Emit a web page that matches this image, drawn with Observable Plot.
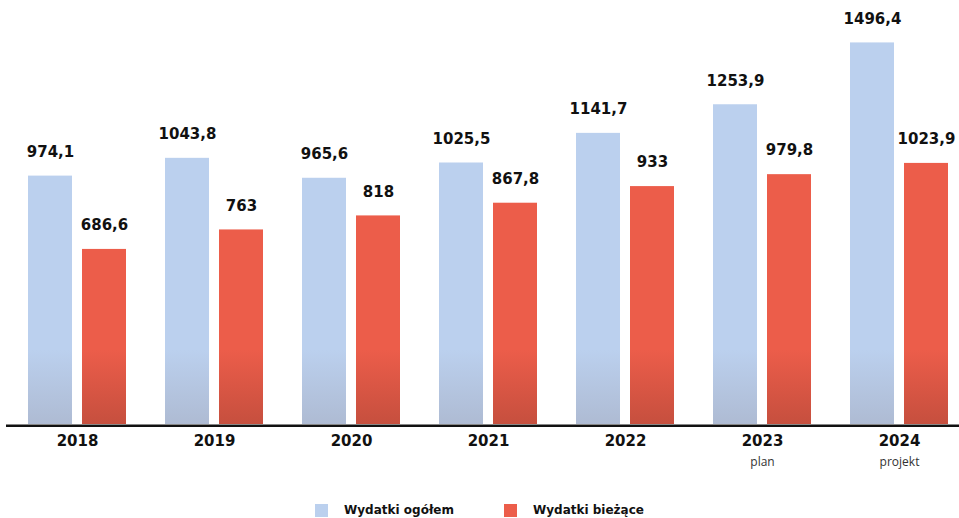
<!DOCTYPE html>
<html>
<head>
<meta charset="utf-8">
<script src="https://cdn.jsdelivr.net/npm/d3@7"></script>
<script src="https://cdn.jsdelivr.net/npm/@observablehq/plot@0.6"></script>
<style>
  html, body { margin: 0; padding: 0; background: #fff; }
  #chart svg { display: block; }
  .legend { display: flex; justify-content: center; align-items: center; gap: 50px; height: 28px; margin-top: 6px;
    font-family: "DejaVu Sans", sans-serif; font-weight: bold; font-size: 12px; color: #111; }
  .legend .item { display: flex; align-items: center; }
  .legend .sw { width: 13px; height: 13px; margin-right: 16px; }
</style>
</head>
<body>
<div id="chart"></div>
<div class="legend">
  <div class="item"><span class="sw" style="background:#BBD0EE"></span>Wydatki ogółem</div>
  <div class="item"><span class="sw" style="background:#EC5D4A"></span>Wydatki bieżące</div>
</div>
<script>
const years = ["2018", "2019", "2020", "2021", "2022", "2023", "2024"];
const totalSpending = [974.1, 1043.8, 965.6, 1025.5, 1141.7, 1253.9, 1496.4];
const currentSpending = [686.6, 763, 818, 867.8, 933, 979.8, 1023.9];
const subLabelYears = ["2023", "2024"];
const subLabels = ["plan", "projekt"];
const seriesNames = ["Wydatki ogółem", "Wydatki bieżące"];

const fmt = v => String(v).replace(".", ",");
const totalRows = years.map((y, i) => ({year: y, series: seriesNames[0], value: totalSpending[i]}));
const currentRows = years.map((y, i) => ({year: y, series: seriesNames[1], value: currentSpending[i]}));
const subRows = subLabelYears.map((y, i) => ({year: y, label: subLabels[i]}));

function gradients() {
  const ns = "http://www.w3.org/2000/svg";
  const defs = document.createElementNS(ns, "defs");
  const mk = (id, top, bottom) => {
    const g = document.createElementNS(ns, "linearGradient");
    g.setAttribute("id", id);
    g.setAttribute("gradientUnits", "userSpaceOnUse");
    g.setAttribute("x1", 0); g.setAttribute("x2", 0);
    g.setAttribute("y1", 350); g.setAttribute("y2", 424);
    [[0, top], [1, bottom]].forEach(([o, c]) => {
      const s = document.createElementNS(ns, "stop");
      s.setAttribute("offset", o);
      s.setAttribute("stop-color", c);
      g.appendChild(s);
    });
    defs.appendChild(g);
  };
  mk("gBlue", "#BBD0EE", "#AEBBD3");
  mk("gRed", "#EC5D4A", "#C64F3E");
  return defs;
}

const chart = Plot.plot({
  width: 959,
  height: 490,
  marginLeft: 6,
  marginRight: 0,
  marginTop: 16,
  marginBottom: 66,
  style: {fontFamily: "DejaVu Sans, sans-serif", background: "#fff", overflow: "visible"},
  x: {type: "band", domain: years, range: [54.5, 921.5], paddingInner: 0.679, paddingOuter: 0, axis: null},
  y: {domain: [0, 1600], range: [424, 16], axis: null},
  marks: [
    gradients,
    Plot.barY(totalRows, {x: "year", y: "value", dx: -27, fill: "url(#gBlue)"}),
    Plot.barY(currentRows, {x: "year", y: "value", dx: 27, fill: "url(#gRed)"}),
    Plot.text(totalRows, {x: "year", y: "value", dx: -27, dy: -24, text: d => fmt(d.value),
      fontSize: 15, fontWeight: "bold", fill: "#111", lineAnchor: "middle"}),
    Plot.text(currentRows, {x: "year", y: "value", dx: 27, dy: -24, text: d => fmt(d.value),
      fontSize: 15, fontWeight: "bold", fill: "#111", lineAnchor: "middle"}),
    Plot.ruleY([0], {dy: 1.2, strokeWidth: 2.5, stroke: "#111"}),
    Plot.text(years, {x: d => d, y: () => 0, dy: 17, text: d => d,
      fontSize: 15, fontWeight: "bold", fill: "#111", lineAnchor: "middle"}),
    Plot.text(subRows, {x: "year", y: () => 0, dy: 38, text: "label",
      fontSize: 12, fill: "#333", lineAnchor: "middle", fontFamily: "Liberation Sans Narrow, Open Sans, sans-serif"})
  ]
});
document.getElementById("chart").appendChild(chart);
</script>
</body>
</html>
